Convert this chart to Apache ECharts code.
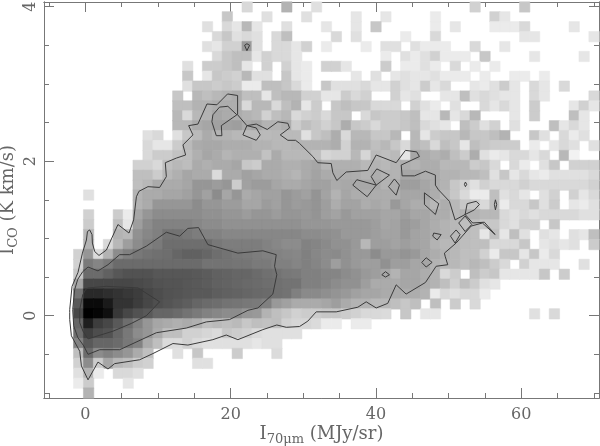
<!DOCTYPE html>
<html>
<head>
<meta charset="utf-8">
<style>html,body{margin:0;background:#fff}#main{width:600px;height:446px}</style>
<script src="https://cdn.jsdelivr.net/npm/echarts@6/dist/echarts.min.js"></script>
</head>
<body>
<div id="main"></div>
<script>
// tick positions
var xMajor = [0, 20, 40, 60];
var xMinor = [-5, 5, 10, 15, 25, 30, 35, 45, 50, 55, 65, 70];
var yMajor = [0, 2, 4];
var yMinor = [-1, -0.5, 0.5, 1, 1.5, 2.5, 3, 3.5];

// darkness of each cell, 0 = empty, 100 = black. top row first
// columns 0-25
var gridLeft = [
[0,0,0,0,0,0,0,0,0,0,0,0,0,0,0,0,0,0,0,0,15,0,0,0,30,0],
[0,0,0,0,0,0,0,0,0,0,0,0,0,0,0,0,0,0,22,0,0,0,12,0,0,0],
[0,0,0,0,0,0,0,0,0,0,0,0,0,0,0,0,12,0,15,10,28,10,0,0,12,0],
[0,0,0,0,0,0,0,0,0,0,0,0,0,0,0,0,0,15,22,12,15,12,0,15,25,0],
[0,0,0,0,0,0,0,0,0,0,0,0,0,0,0,0,12,10,18,18,40,12,0,15,15,10],
[0,0,0,0,0,0,0,0,0,0,0,0,0,0,0,0,0,15,22,25,25,10,18,15,15,10],
[0,0,0,0,0,0,0,0,0,0,0,0,0,0,12,0,20,20,22,25,10,0,18,0,18,10],
[0,0,0,0,0,0,0,0,0,0,0,0,0,0,22,0,10,22,20,18,28,12,12,0,22,10],
[0,0,0,0,0,0,0,0,0,0,0,0,0,0,12,22,22,20,22,20,8,8,25,25,22,15],
[0,0,0,0,0,0,0,0,0,0,0,0,0,22,0,28,25,28,30,32,25,25,10,25,28,28],
[0,0,0,0,0,0,0,0,0,0,0,0,0,25,25,30,30,32,32,32,15,28,28,15,25,30],
[0,0,0,0,0,0,0,0,0,0,0,0,0,28,15,28,30,35,33,32,30,28,18,25,28,15],
[0,0,0,0,0,0,0,0,0,0,0,0,0,28,28,33,35,37,37,38,33,35,30,30,32,20],
[0,0,0,0,0,0,0,0,0,0,12,15,0,12,22,27,33,30,30,28,27,27,27,28,27,27],
[0,0,0,0,0,0,0,0,0,0,15,10,10,20,27,33,34,34,32,32,32,30,30,28,28,29],
[0,0,0,0,0,0,0,0,0,0,15,20,20,24,26,31,35,33,29,31,31,31,24,33,28,28],
[0,0,0,0,0,0,0,0,0,18,18,15,25,28,26,33,31,33,33,35,22,20,33,33,31,31],
[0,0,0,0,0,0,0,0,0,25,25,20,28,31,35,33,33,14,33,33,37,35,33,33,31,29],
[0,0,0,0,0,0,0,0,0,25,28,33,33,33,35,41,41,39,41,20,37,39,39,35,33,33],
[0,0,0,0,12,0,0,0,0,30,33,33,35,35,37,41,37,45,35,41,33,35,37,37,41,39],
[0,0,0,0,0,0,0,0,0,30,33,41,41,41,41,45,41,41,39,39,35,35,39,37,41,39],
[0,0,0,0,18,0,0,20,8,35,41,45,45,45,45,45,43,43,41,41,39,41,41,39,41,41],
[0,0,0,0,20,0,0,25,10,38,45,49,49,49,49,47,45,45,43,43,43,43,43,43,43,43],
[0,0,0,0,28,0,0,30,28,43,47,50,55,55,53,51,49,49,47,47,47,47,47,47,47,47],
[0,0,0,0,30,0,15,28,38,45,50,52,57,57,57,57,57,53,51,51,51,51,49,47,45,45],
[0,0,0,18,41,14,30,45,50,53,55,56,57,60,62,62,60,57,55,53,52,51,50,49,48,47],
[0,0,0,18,52,48,52,58,58,58,58,58,58,58,58,58,55,55,55,54,54,52,52,50,50,48],
[0,0,0,22,58,58,62,66,68,68,68,66,66,66,66,65,64,62,61,60,60,58,56,55,53,52],
[0,0,0,35,72,72,72,72,72,71,70,68,67,67,66,65,64,62,61,60,59,58,57,56,55,55],
[0,0,0,55,84,84,82,80,78,76,72,70,68,67,66,65,65,63,62,61,60,59,58,56,55,50],
[0,0,0,65,96,96,90,80,80,76,72,69,67,65,63,60,58,57,55,54,53,52,50,40,37,33],
[0,0,0,72,100,98,94,78,72,68,65,60,60,58,55,52,49,47,45,45,41,40,30,25,22,18],
[0,0,0,60,88,76,72,65,57,49,41,35,33,31,33,31,25,27,25,27,22,25,24,25,18,16],
[0,0,0,57,75,70,68,60,53,45,41,33,25,25,18,18,16,14,22,20,18,14,12,12,12,12],
[0,0,0,49,65,60,60,58,53,49,33,25,14,14,18,14,12,12,12,12,12,10,12,12,0,0],
[0,0,0,25,58,45,49,45,41,33,25,0,0,12,0,22,0,0,0,20,0,0,0,14,0,0],
[0,0,0,18,45,20,35,28,25,20,18,0,0,0,0,12,12,0,0,0,0,0,0,0,0,0],
[0,0,0,12,30,8,0,15,15,12,0,0,0,0,0,0,0,0,0,0,0,0,0,0,0,0],
[0,0,0,8,20,0,0,0,10,0,0,0,0,0,0,0,0,0,0,0,0,0,0,0,0,0],
[0,0,0,0,30,0,0,0,0,0,0,0,0,0,0,0,0,0,0,0,0,0,0,0,0,0]
];
// columns 26-55
var gridRight = [
[0,12,0,0,0,0,0,0,0,0,0,0,0,0,0,0,0,18,0,0,0,0,22,0,0,0,0,0,0,0],
[12,0,0,0,0,10,0,0,10,0,0,0,0,8,0,0,0,0,0,18,10,0,0,0,0,0,0,0,0,0],
[0,0,10,0,0,10,0,22,0,0,0,0,0,8,0,10,0,0,0,8,8,8,15,0,0,0,0,10,0,0],
[0,0,0,15,0,12,0,0,0,0,8,0,0,15,0,0,0,0,0,0,0,0,10,10,0,0,0,0,0,10],
[18,0,8,0,0,0,8,0,12,12,0,12,8,8,8,0,0,15,0,0,10,0,0,0,0,0,0,0,0,0],
[0,0,0,0,0,0,0,0,8,0,12,8,12,18,8,8,8,0,22,0,0,0,0,10,0,0,0,0,10,0],
[8,0,18,18,10,0,0,0,20,0,8,8,12,8,0,15,0,8,0,8,0,0,0,0,0,0,0,0,0,0],
[8,0,0,0,0,10,0,12,0,10,12,10,10,12,8,8,8,0,8,0,0,8,8,0,8,0,0,0,0,0],
[8,0,22,12,12,12,15,10,10,18,12,10,20,10,15,0,0,10,8,12,20,10,0,15,10,0,15,0,0,0],
[18,18,10,10,20,15,18,0,0,18,10,12,0,0,10,10,25,12,15,12,10,10,0,15,10,0,0,0,0,15],
[10,20,0,22,25,22,22,15,15,15,0,18,12,8,0,12,0,0,15,10,15,10,0,20,0,0,0,10,18,10],
[18,20,15,22,22,0,15,22,20,20,22,25,10,10,28,10,15,28,0,0,0,10,0,20,0,0,0,25,10,0],
[25,22,18,22,32,22,20,15,20,20,22,25,15,12,10,0,25,20,12,18,0,12,0,0,0,25,10,15,10,0],
[12,22,25,32,15,28,28,22,22,28,0,28,10,20,22,22,28,22,22,25,30,0,0,22,12,0,15,8,12,0],
[30,30,30,32,18,30,30,25,28,22,15,28,25,15,25,22,10,25,22,20,20,20,0,8,0,10,15,12,0,12],
[28,25,16,18,18,28,16,27,25,27,10,35,32,30,32,25,20,32,12,8,10,15,15,10,15,0,28,5,0,0],
[33,35,29,31,31,31,28,30,28,30,32,30,32,32,28,28,28,20,22,15,0,15,8,0,12,22,0,18,18,18],
[33,36,33,32,32,32,30,32,30,30,35,35,32,32,30,30,28,28,25,12,22,10,15,10,8,12,12,12,12,15],
[35,37,37,33,34,34,34,34,30,32,38,38,35,32,30,22,18,12,18,15,15,15,18,15,15,15,15,15,15,18],
[37,42,36,30,35,32,32,32,32,32,35,35,35,32,28,22,15,8,8,25,12,15,10,0,12,18,0,18,10,15],
[40,42,38,32,36,36,32,34,32,40,35,32,32,28,32,28,22,22,15,25,8,15,15,22,12,20,0,10,8,12],
[40,42,38,36,40,37,37,37,35,35,38,35,35,32,32,28,30,30,28,28,15,12,15,12,15,15,15,15,12,12],
[41,41,41,40,40,40,40,38,35,36,40,38,35,32,30,28,25,25,22,22,15,12,18,18,0,22,0,0,0,0],
[45,45,44,43,40,40,40,38,36,36,40,36,35,32,30,28,26,25,10,25,10,25,12,0,12,10,0,12,10,25],
[49,48,46,43,43,40,28,38,38,36,38,36,35,30,28,28,26,25,25,15,15,15,22,0,10,12,10,12,0,20],
[50,47,45,46,43,40,40,45,40,40,42,40,35,32,30,28,25,25,18,8,22,22,10,22,8,15,0,0,0,0],
[50,48,45,38,43,40,38,38,43,38,38,35,35,30,28,28,25,28,25,20,15,0,18,10,10,10,0,0,12,0],
[50,50,48,48,45,43,40,38,35,30,35,35,32,30,15,20,0,25,20,22,10,10,10,10,22,0,20,0,0,0],
[50,50,48,45,43,43,38,33,33,33,35,35,32,30,25,18,25,20,12,10,0,0,0,0,0,0,0,0,0,0],
[46,46,44,42,40,37,35,35,33,33,32,32,30,8,15,12,15,15,8,0,0,0,0,0,0,0,0,0,0,0],
[33,33,35,38,33,30,30,28,28,25,22,25,0,25,0,20,0,15,0,0,0,0,0,0,0,0,0,0,0,0],
[20,20,22,22,20,18,15,15,14,0,22,0,10,10,0,0,0,0,0,0,0,0,0,12,0,15,0,0,0,0],
[16,14,8,8,0,8,8,0,0,0,0,0,0,0,0,0,0,0,0,0,0,0,0,0,0,0,0,0,0,0],
[0,0,0,0,0,0,0,0,0,0,0,0,0,0,0,0,0,0,0,0,0,0,0,0,0,0,0,0,0,0],
[0,0,0,0,0,0,0,0,0,0,0,0,0,0,0,0,0,0,0,0,0,0,0,0,0,0,0,0,0,0],
[0,0,0,0,0,0,0,0,0,0,0,0,0,0,0,0,0,0,0,0,0,0,0,0,0,0,0,0,0,0],
[0,0,0,0,0,0,0,0,0,0,0,0,0,0,0,0,0,0,0,0,0,0,0,0,0,0,0,0,0,0],
[0,0,0,0,0,0,0,0,0,0,0,0,0,0,0,0,0,0,0,0,0,0,0,0,0,0,0,0,0,0],
[0,0,0,0,0,0,0,0,0,0,0,0,0,0,0,0,0,0,0,0,0,0,0,0,0,0,0,0,0,0],
[0,0,0,0,0,0,0,0,0,0,0,0,0,0,0,0,0,0,0,0,0,0,0,0,0,0,0,0,0,0]
];

// contours in data units
var contourOuter = [[-2.16,0.04],[-2.16,0.08],[-1.84,0.38],[-1.02,0.56],[-0.41,0.81],[0.14,0.98],[0.28,1.09],[0.59,1.11],[0.91,1.05],[0.96,0.94],[1.28,0.83],[1.87,0.78],[2.89,0.85],[4.48,1.18],[6,1.07],[6.64,1.24],[7.02,1.54],[7.37,1.61],[8.61,1.67],[10.22,1.66],[11.14,1.8],[11,1.98],[12.52,2.04],[13.8,2.08],[13.43,2.21],[14.8,2.34],[14.21,2.46],[15.49,2.48],[16.73,2.74],[18.1,2.73],[19.57,2.87],[20.95,2.85],[20.95,2.6],[22.23,2.46],[23.52,2.48],[25.03,2.41],[26.49,2.51],[27.87,2.49],[28.1,2.43],[26.82,2.34],[27.87,2.27],[28.93,2.27],[29.48,2.23],[31.31,2.06],[31.99,1.98],[33.84,1.97],[34.06,1.85],[34.61,1.75],[35.9,1.86],[38.87,1.88],[40.03,2.08],[42.78,1.98],[44.06,2.14],[45.61,2.12],[45.98,2.06],[43.47,1.95],[43.6,1.81],[45.3,1.81],[46.81,1.87],[48.18,1.82],[48.18,1.69],[48.6,1.63],[50.11,1.48],[50.89,1.24],[52.27,1.31],[53.31,1.2],[54.92,1.21],[56.4,1.05],[54.65,1.2],[53.1,1.16],[51.03,0.94],[49.42,0.81],[49.52,0.77],[49.88,0.66],[48.28,0.64],[46.81,0.43],[44.15,0.28],[42.78,0.4],[41.62,0.16],[40.03,0.1],[38.65,0.18],[37.5,0.11],[34.53,0.05],[31.77,0.05],[30.62,-0.07],[29.48,-0.14],[27.65,-0.15],[26.35,-0.12],[24.43,-0.18],[20.99,-0.31],[19.39,-0.25],[17.55,-0.31],[14.11,-0.38],[12.05,-0.36],[9.3,-0.49],[7.47,-0.57],[4.03,-0.62],[3.11,-0.69],[1.73,-0.6],[0.36,-0.83],[-0.55,-0.65],[-0.78,-0.46],[-1.93,-0.26],[-2.16,-0.05]];
var contourMiddle = [[0.36,0.63],[1.73,0.58],[3.11,0.66],[4.72,0.79],[6.09,0.79],[8.39,0.9],[11.14,1.08],[12.97,1.03],[14.11,1.13],[15.58,1.14],[16.86,0.92],[20.99,0.81],[24.43,0.84],[26.27,0.79],[26.04,0.64],[26.35,0.53],[25.8,0.28],[23.74,0.1],[22.37,0.07],[19.85,-0.05],[16.64,-0.08],[13.89,-0.16],[9.77,-0.22],[4.72,-0.44],[1.97,-0.44],[0.36,-0.5],[-0.23,-0.39],[-1.06,-0.28],[-1.61,-0.13],[-1.75,0.08],[-1.47,0.34],[-1.06,0.47],[-0.37,0.57]];
var contourInner = [[0.04,0.34],[0.36,0.36],[2.89,0.38],[7.24,0.36],[10.22,0.18],[8.39,0],[6.33,-0.1],[3.8,-0.2],[0.36,-0.3],[-0.33,-0.2],[-0.78,-0.09],[-0.78,0.08],[-0.37,0.27]];
var contourLoops = [
[[21.91,3.5],[22.23,3.52],[22.6,3.5],[22.23,3.43]],
[[17.55,2.6],[18.47,2.7],[19.61,2.71],[20.85,2.6],[18.71,2.46],[18.79,2.33],[18.02,2.33],[17.41,2.51]],
[[22.23,2.46],[21.68,2.34],[23.52,2.27],[24.07,2.34],[23.52,2.43]],
[[40.11,1.9],[41.86,1.82],[40.03,1.69],[39.34,1.8]],
[[36.81,1.69],[37.36,1.76],[40.03,1.69],[38.79,1.54]],
[[42.54,1.77],[43.23,1.69],[42.78,1.56],[41.72,1.67]],
[[46.67,1.59],[48.64,1.45],[48.18,1.31],[46.67,1.44]],
[[52.17,1.7],[52.31,1.73],[52.49,1.7],[52.31,1.67]],
[[56.3,1.44],[56.44,1.5],[56.62,1.44],[56.44,1.37]],
[[52.27,1.31],[52.55,1.45],[53.79,1.48],[54.24,1.44],[53.55,1.37]],
[[52.27,1.29],[53.18,1.18],[52.27,1.09],[51.39,1.2]],
[[51.03,1.11],[51.58,1.05],[50.89,0.94],[50.25,1.03]],
[[47.95,1.07],[48.97,1.05],[48.42,0.98],[47.81,1.03]],
[[46.91,0.75],[47.73,0.69],[46.91,0.63],[46.3,0.69]],
[[41.31,0.57],[41.86,0.53],[41.31,0.5],[40.8,0.53]]
];

var axisColor = '#777';
var textColor = '#666';
var textFont = 'DejaVu Serif';

var cells = [];
for (var r = 0; r < gridLeft.length; r++) {
    var row = gridLeft[r].concat(gridRight[r]);
    for (var c = 0; c < row.length; c++) {
        if (row[c] > 0) {
            // border in the cell's own gray so no seams show between cells
            var g = Math.round(255 * (1 - row[c] / 100));
            cells.push({
                value: [c, r, row[c]],
                itemStyle: { borderColor: 'rgb(' + g + ',' + g + ',' + g + ')', borderWidth: 0.5 }
            });
        }
    }
}
var colIndex = gridLeft[0].map(function (v, i) { return i; }).concat(gridRight[0].map(function (v, i) { return i + 26; }));
var rowIndex = gridLeft.map(function (v, i) { return i; });

function valueAxis(pos, min, max, ticks, len, extra) {
    var axis = {
        type: 'value',
        position: pos,
        min: min,
        max: max,
        splitLine: { show: false },
        axisLine: { onZero: false, lineStyle: { color: axisColor, width: 1 } },
        axisTick: { inside: true, length: len, customValues: ticks, lineStyle: { color: axisColor, width: 1 } },
        axisLabel: { show: false }
    };
    return Object.assign(axis, extra || {});
}

var xMin = -5.7, xMax = 70.7, yMin = -1.065, yMax = 4.06;

var nameStyle = {
    color: textColor, fontFamily: textFont, fontSize: 18,
    rich: {
        i: { fontFamily: textFont, fontSize: 18, color: textColor },
        s: { fontFamily: textFont, fontSize: 13, color: textColor, padding: [11, 0, 0, 0] }
    }
};

var xBottom = valueAxis('bottom', xMin, xMax, xMajor, 10, {
    name: '{i|I}{s|70μm} {i|(MJy/sr)}',
    nameLocation: 'middle',
    nameGap: 24,
    nameMoveOverlap: false,
    nameTextStyle: nameStyle,
    axisLabel: { show: true, customValues: xMajor, color: textColor, fontFamily: textFont, fontSize: 16, margin: 9 }
});
var yLeft = valueAxis('left', yMin, yMax, yMajor, 10, {
    name: '{i|I}{s|CO} {i|(K km/s)}',
    nameLocation: 'middle',
    nameRotate: 90,
    nameGap: 24,
    nameMoveOverlap: false,
    nameTextStyle: nameStyle,
    axisLabel: { show: true, customValues: yMajor, rotate: 90, color: textColor, fontFamily: textFont, fontSize: 16, margin: 5 }
});

function lineSeries(points) {
    return {
        type: 'line',
        xAxisIndex: 1,
        yAxisIndex: 1,
        data: points.concat([points[0]]),
        symbol: 'none',
        silent: true,
        lineStyle: { color: '#3a3a3a', width: 1 }
    };
}

var series = [{
    type: 'heatmap',
    xAxisIndex: 0,
    yAxisIndex: 0,
    data: cells,
    silent: true,
    progressive: 0
}];
series.push(lineSeries(contourOuter));
series.push(lineSeries(contourMiddle));
series.push(lineSeries(contourInner));
contourLoops.forEach(function (loop) { series.push(lineSeries(loop)); });

var myChart = echarts.init(document.getElementById('main'));
myChart.setOption({
    animation: false,
    backgroundColor: '#fff',
    grid: { left: 44, top: 2, width: 555, height: 396, outerBoundsMode: 'none' },
    visualMap: {
        show: false,
        seriesIndex: 0,
        min: 0,
        max: 100,
        inRange: { color: ['#ffffff', '#000000'] }
    },
    xAxis: [
        { type: 'category', show: false, data: colIndex },
        xBottom,
        valueAxis('bottom', xMin, xMax, xMinor, 5),
        valueAxis('top', xMin, xMax, xMajor, 10),
        valueAxis('top', xMin, xMax, xMinor, 5)
    ],
    yAxis: [
        { type: 'category', show: false, inverse: true, data: rowIndex },
        yLeft,
        valueAxis('left', yMin, yMax, yMinor, 5),
        valueAxis('right', yMin, yMax, yMajor, 10),
        valueAxis('right', yMin, yMax, yMinor, 5)
    ],
    series: series
});
</script>
</body>
</html>
